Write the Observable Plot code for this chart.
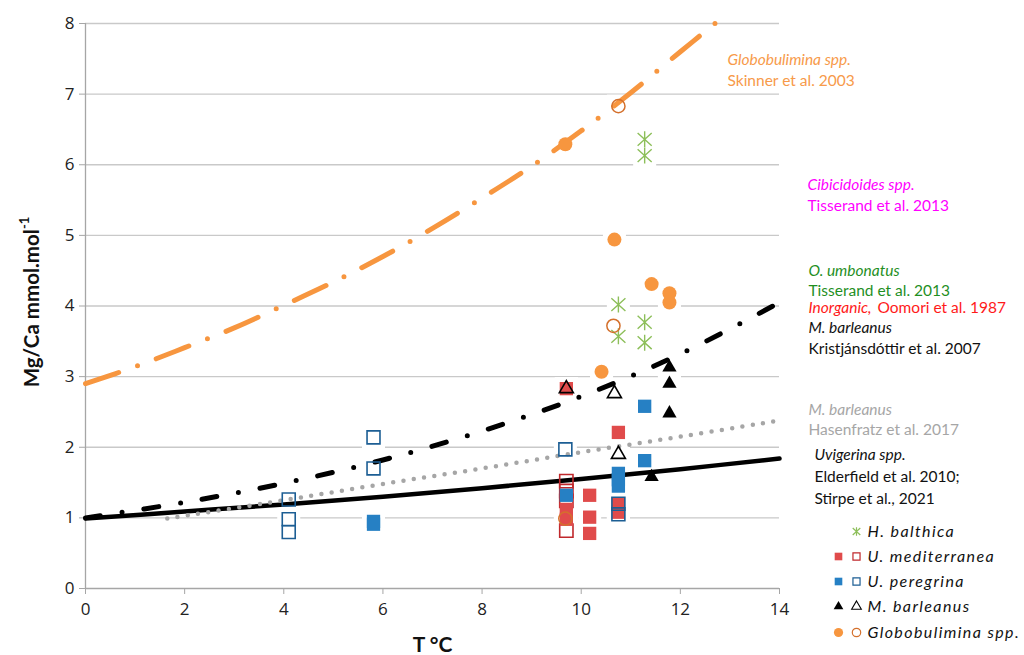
<!DOCTYPE html>
<html><head><meta charset="utf-8">
<script src="https://cdn.jsdelivr.net/npm/d3@7"></script>
<script src="https://cdn.jsdelivr.net/npm/@observablehq/plot@0.6"></script>
<style>html,body{margin:0;padding:0;background:#fff;} #chart{width:1024px;height:655px;}</style>
</head><body><div id="chart"></div>
<script>
// ---------- axis ticks ----------
const xTicks = [0, 2, 4, 6, 8, 10, 12, 14];
const yTicks = [0, 1, 2, 3, 4, 5, 6, 7, 8];

// ---------- calibration curves ----------
const skinnerT  = [0, 1, 2, 3, 4, 5, 6, 7, 8, 9, 10, 11, 12, 12.7];
const skinnerMg = [2.90, 3.14, 3.41, 3.69, 4.01, 4.34, 4.70, 5.10, 5.53, 5.98, 6.48, 7.02, 7.60, 8.00];
const kristT  = [0, 2, 4, 6, 8, 10, 12, 14];
const kristMg = [1.00, 1.22, 1.49, 1.82, 2.23, 2.72, 3.32, 4.05];
const hasenT  = [1.65, 4, 6, 8, 10, 12, 14];
const hasenMg = [0.99, 1.25, 1.48, 1.70, 1.93, 2.15, 2.38];
const uvigT  = [0, 2, 4, 6, 8, 10, 12, 14];
const uvigMg = [0.99, 1.09, 1.19, 1.30, 1.42, 1.55, 1.69, 1.84];

// ---------- measured points ----------
const hbT  = [11.28, 11.28, 10.75, 10.75, 11.28, 11.28];
const hbMg = [6.36, 6.13, 4.02, 3.57, 3.77, 3.48];
const umOpenT  = [9.70, 9.70, 9.70, 9.70];
const umOpenMg = [1.52, 1.38, 1.24, 0.82];
const umFilledT  = [9.70, 10.75, 10.17, 10.17, 10.17, 10.75, 10.75, 9.70, 9.70];
const umFilledMg = [2.83, 2.21, 1.32, 1.01, 0.78, 1.20, 1.08, 1.12, 0.98];
const upOpenT  = [5.81, 5.81, 4.10, 4.10, 4.10, 9.68, 10.75, 10.75];
const upOpenMg = [2.14, 1.70, 1.26, 0.98, 0.80, 1.97, 1.20, 1.05];
const upFilledT  = [11.28, 11.28, 10.75, 10.75, 10.75, 9.70, 5.81, 5.81];
const upFilledMg = [2.58, 1.81, 1.63, 1.54, 1.45, 1.32, 0.95, 0.91];
const mbOpenT  = [9.70, 10.67, 10.75];
const mbOpenMg = [2.83, 2.76, 1.90];
const mbFilledT  = [11.78, 11.78, 11.78, 11.42];
const mbFilledMg = [3.13, 2.90, 2.48, 1.58];
const glFilledT  = [9.68, 10.67, 11.42, 11.78, 11.78, 10.41];
const glFilledMg = [6.29, 4.94, 4.31, 4.18, 4.05, 3.07];
const glOpenT  = [10.75, 10.65, 9.68];
const glOpenMg = [6.83, 3.72, 0.99];

// ---------- texts ----------
const annotationTexts = [
  "Globobulimina spp.", "Skinner et al. 2003",
  "Cibicidoides spp.", "Tisserand et al. 2013",
  "O. umbonatus", "Tisserand et al. 2013",
  "Inorganic,", "Oomori et al. 1987",
  "M. barleanus", "Kristjánsdóttir et al. 2007",
  "M. barleanus", "Hasenfratz et al. 2017",
  "Uvigerina spp.", "Elderfield et al. 2010;", "Stirpe et al., 2021"
];
const legendLabels = ["H. balthica", "U. mediterranea", "U. peregrina", "M. barleanus", "Globobulimina spp."];
const xLabel = "T °C";
const yLabel = "Mg/Ca mmol.mol";
const yLabelSup = "-1";

// ---------- styles / layout ----------
const C = {
  orange: "#f7963f", orangeText: "#f79a4a", orangeOpen: "#d4702c",
  red: "#e04b4b", redOpen: "#c0282c",
  blue: "#2680c4", blueOpen: "#1c5e94",
  green: "#8dbf5a", grid: "#c9c9c9", axis: "#a6a6a6", gray: "#a6a6a6"
};
const annotationLayout = [
  {x: 727, y: 60, c: C.orangeText, it: true}, {x: 727, y: 81, c: C.orangeText},
  {x: 807, y: 185, c: "#ff00ff", it: true}, {x: 807, y: 206, c: "#ff00ff"},
  {x: 808, y: 271, c: "#1f8f1f", it: true}, {x: 808, y: 291, c: "#1f8f1f"},
  {x: 808, y: 308, c: "#ff1a1a", it: true}, {x: 877, y: 308, c: "#ff1a1a"},
  {x: 808, y: 328, c: "#111", it: true}, {x: 808, y: 349, c: "#111"},
  {x: 808, y: 410, c: C.gray, it: true}, {x: 808, y: 430, c: C.gray},
  {x: 814, y: 455, c: "#111", it: true}, {x: 814, y: 477, c: "#111"}, {x: 814, y: 499, c: "#111"}
];
const M = {left: 85, top: 23, right: 245, bottom: 67};
const legendRowY = [531, 556, 581, 606, 632];
const legendFilledX = 838, legendOpenX = 856, legendTextX = 867;
const legendFontSize = 16;

// Excel-like star marker: vertical bar + X
const star = {
  draw(ctx, size) {
    const r = Math.sqrt(size / Math.PI);
    ctx.moveTo(0, -r); ctx.lineTo(0, r);
    ctx.moveTo(-0.88 * r, -0.8 * r); ctx.lineTo(0.88 * r, 0.8 * r);
    ctx.moveTo(-0.88 * r, 0.8 * r); ctx.lineTo(0.88 * r, -0.8 * r);
  }
};

const rows = (T, Mg) => T.map((t, i) => ({T: t, Mg: Mg[i]}));
const allPts = [
  ...rows(hbT, hbMg), ...rows(umOpenT, umOpenMg), ...rows(umFilledT, umFilledMg),
  ...rows(upOpenT, upOpenMg), ...rows(upFilledT, upFilledMg), ...rows(mbOpenT, mbOpenMg),
  ...rows(mbFilledT, mbFilledMg), ...rows(glFilledT, glFilledMg), ...rows(glOpenT, glOpenMg)
];

const fx = (px) => px - M.left, fy = (py) => py - M.top;
const annoMarks = annotationTexts.map((t, i) => {
  const L = annotationLayout[i];
  return Plot.text([t], {text: d => d, frameAnchor: "top-left", dx: fx(L.x), dy: fy(L.y),
    textAnchor: "start", lineAnchor: "middle", fill: L.c, fontSize: 15.5, fontStyle: L.it ? "italic" : "normal",
    fontFamily: "Lato"});
});

// legend symbols
const legendSym = [
  [null, {symbol: star, stroke: C.green, fill: "none", r: 4.3, strokeWidth: 1.2}],
  [{symbol: "square", fill: C.red, r: 4.3}, {symbol: "square", stroke: C.redOpen, fill: "white", r: 4, strokeWidth: 1.2}],
  [{symbol: "square", fill: C.blue, r: 4.3}, {symbol: "square", stroke: C.blueOpen, fill: "white", r: 4, strokeWidth: 1.2}],
  [{symbol: "triangle", fill: "black", r: 3.6}, {symbol: "triangle", stroke: "black", fill: "white", r: 3.6, strokeWidth: 1.1}],
  [{symbol: "circle", fill: C.orange, r: 4.6}, {symbol: "circle", stroke: C.orangeOpen, fill: "white", r: 4.2, strokeWidth: 1.2}]
];
const legendMarks = [];
legendLabels.forEach((lab, i) => {
  const [f, o] = legendSym[i];
  if (f) legendMarks.push(Plot.dot([0], {frameAnchor: "top-left", dx: fx(legendFilledX), dy: fy(legendRowY[i]), ...f}));
  if (o) legendMarks.push(Plot.dot([0], {frameAnchor: "top-left", dx: fx(legendOpenX), dy: fy(legendRowY[i]), ...o}));
  legendMarks.push(Plot.text([lab], {text: d => d, frameAnchor: "top-left", dx: fx(legendTextX), dy: fy(legendRowY[i]),
    textAnchor: "start", lineAnchor: "middle", fill: "#111", fontSize: legendFontSize, fontStyle: "italic", fontFamily: "Lato"}));
});

const xy = {x: "T", y: "Mg"};
const plot = Plot.plot({
  width: 1024, height: 655,
  marginLeft: M.left, marginRight: M.right, marginTop: M.top, marginBottom: M.bottom,
  x: {domain: [0, 14]},
  y: {domain: [0, 8]},
  style: {fontFamily: "Open Sans", background: "white", overflow: "visible"},
  marks: [
    Plot.ruleY(yTicks.filter(v => v > 0), {stroke: C.grid, strokeWidth: 1.3}),
    Plot.dot(allPts, {...xy, symbol: "square", r: 13, fill: "white"}),
    Plot.ruleX([0], {y1: 0, y2: 8, stroke: C.axis, strokeWidth: 1.3}),
    Plot.ruleY([0], {x1: 0, x2: 14, stroke: C.axis, strokeWidth: 1.3}),
    Plot.axisX({ticks: xTicks, tickSize: 6, tickPadding: 8, stroke: C.axis, fill: "#222", fontSize: 17, label: null}),
    Plot.axisY({ticks: yTicks, tickSize: 6, tickPadding: 5, stroke: C.axis, fill: "#222", fontSize: 17, label: null}),
    Plot.line(rows(uvigT, uvigMg), {...xy, curve: "catmull-rom", stroke: "black", strokeWidth: 4.5}),
    Plot.line(rows(hasenT, hasenMg), {...xy, curve: "catmull-rom", stroke: C.gray, strokeWidth: 4.5, strokeLinecap: "round", strokeDasharray: "0 10.4"}),
    Plot.line(rows(kristT, kristMg), {...xy, curve: "catmull-rom", stroke: "black", strokeWidth: 5, strokeLinecap: "round", strokeDasharray: "15 22 0 22"}),
    Plot.line(rows(skinnerT, skinnerMg), {...xy, curve: "catmull-rom", stroke: C.orange, strokeWidth: 5, strokeLinecap: "round", strokeDasharray: "35 20 0 20"}),
    Plot.dot(rows(hbT, hbMg), {...xy, symbol: star, r: 8, stroke: C.green, strokeWidth: 1.4}),
    Plot.dot(rows(umOpenT, umOpenMg), {...xy, symbol: "square", r: 7.5, stroke: C.redOpen, fill: "none", strokeWidth: 1.6}),
    Plot.dot(rows(umFilledT, umFilledMg), {...xy, symbol: "square", r: 7.5, fill: C.red}),
    Plot.dot(rows(upFilledT, upFilledMg), {...xy, symbol: "square", r: 7.5, fill: C.blue}),
    Plot.dot(rows(upOpenT, upOpenMg), {...xy, symbol: "square", r: 7.3, stroke: C.blueOpen, fill: "none", strokeWidth: 1.6}),
    Plot.dot(rows(mbOpenT, mbOpenMg), {...xy, symbol: "triangle", r: 5.2, stroke: "black", fill: "none", strokeWidth: 1.6}),
    Plot.dot(rows(mbFilledT, mbFilledMg), {...xy, symbol: "triangle", r: 5.3, fill: "black"}),
    Plot.dot(rows(glFilledT, glFilledMg), {...xy, symbol: "circle", r: 7, fill: C.orange}),
    Plot.dot(rows(glOpenT, glOpenMg), {...xy, symbol: "circle", r: 6.6, stroke: C.orangeOpen, fill: "none", strokeWidth: 1.5}),
    Plot.text([xLabel], {text: d => d, frameAnchor: "bottom", dy: 57, lineAnchor: "middle", fontSize: 21, fontWeight: "bold", fontFamily: "Lato", fill: "#111"}),
    ...annoMarks,
    ...legendMarks
  ]
});
document.getElementById("chart").appendChild(plot);

// spaced-out legend lettering (as in the reference), legend texts only
d3.select(plot).selectAll("text")
  .filter(function() {
    const g = this.closest("g");
    return legendLabels.includes(this.textContent) && g && g.getAttribute("font-size") == String(legendFontSize);
  })
  .attr("letter-spacing", "1.4px");

// rotated y label with superscript
const yl = d3.select(plot).append("text")
  .attr("transform", "translate(31,302) rotate(-90)")
  .attr("text-anchor", "middle")
  .attr("dominant-baseline", "central")
  .attr("font-family", "Lato").attr("font-weight", "bold").attr("font-size", 20.5).attr("fill", "#111");
yl.append("tspan").text(yLabel);
yl.append("tspan").attr("dy", -7).attr("font-size", 13).text(yLabelSup);
</script></body></html>
